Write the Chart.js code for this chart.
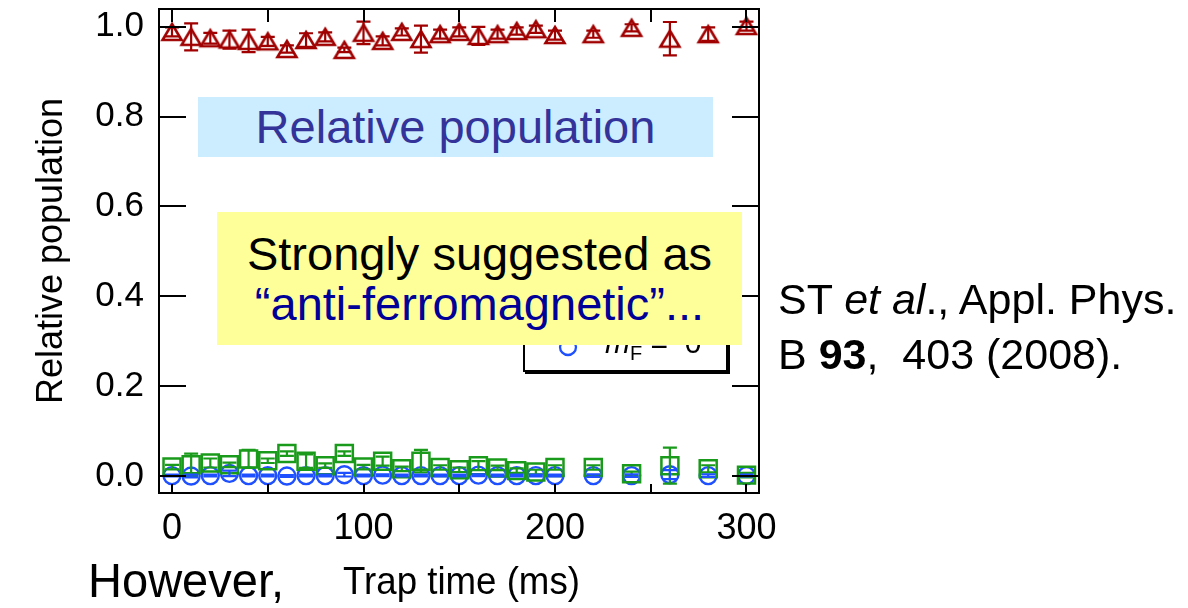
<!DOCTYPE html>
<html><head><meta charset="utf-8">
<script src="https://cdn.jsdelivr.net/npm/chart.js@4/dist/chart.umd.min.js"></script>
<style>
html,body{margin:0;padding:0;background:#fff;}
#wrap{position:relative;width:1188px;height:608px;overflow:hidden;font-family:"Liberation Sans",Arial,sans-serif;}
canvas{position:absolute;left:0;top:0;}
.ov{position:absolute;white-space:nowrap;}
</style></head><body>
<div id="wrap">
<canvas id="c" width="1188" height="608"></canvas>

<div class="ov" style="left:523px;top:236px;width:201px;height:132px;border:2px solid #000;background:#fff;box-shadow:2px 2px 0 #000;"></div>
<svg class="ov" style="left:558px;top:262px" width="20" height="20"><polygon points="10,2.5 18.5,17.5 1.5,17.5" fill="none" stroke="#A00000" stroke-width="2.2"/></svg>
<div class="ov" style="left:605px;top:256px;font-size:30px;line-height:30px;"><i>m</i><sub style="font-size:20px">F</sub> = +1</div>
<svg class="ov" style="left:558px;top:298px" width="20" height="20"><rect x="2.5" y="2.5" width="15" height="15" fill="none" stroke="#1A9A1A" stroke-width="2.2"/></svg>
<div class="ov" style="left:605px;top:292px;font-size:30px;line-height:30px;"><i>m</i><sub style="font-size:20px">F</sub> = −1</div>
<svg class="ov" style="left:558px;top:337px" width="20" height="20"><circle cx="10" cy="10" r="8" fill="none" stroke="#1E50FF" stroke-width="2.3"/></svg>
<div class="ov" style="left:605px;top:328px;font-size:30px;line-height:30px;"><i>m</i><sub style="font-size:20px">F</sub> = &nbsp;0</div>

<div class="ov" style="left:198px;top:97px;width:515px;height:60px;background:#CCECFF;color:#333399;font-size:47px;line-height:60px;text-align:center;">Relative population</div>
<div class="ov" style="left:217px;top:212px;width:525px;height:133px;background:#FFFF99;color:#000;font-size:47px;line-height:50px;text-align:center;padding-top:17px;box-sizing:border-box;">Strongly suggested as<br><span style="color:#000099">“anti-ferromagnetic”...</span></div>

<div class="ov" style="left:778px;top:272px;font-size:43px;line-height:55px;color:#000;">ST <i>et al</i>., Appl. Phys.<br>B <b>93</b>,&nbsp; 403 (2008).</div>

<div class="ov" style="left:343px;top:560px;font-size:39px;line-height:42px;transform:scaleX(0.94);transform-origin:0 0;">Trap time (ms)</div>
<div class="ov" style="left:88px;top:554px;font-size:49px;line-height:52px;transform:scaleX(0.96);transform-origin:0 0;">However,</div>
</div>
<script>
// ---- data ----
const trapTimes = [0,10,20,30,40,50,60,70,80,90,100,110,120,130,140,150,160,170,180,190,200,220,240,260,280,300];
const popPlus1  = [0.988,0.977,0.974,0.971,0.968,0.967,0.950,0.970,0.977,0.948,0.986,0.968,0.988,0.972,0.983,0.988,0.979,0.983,0.990,0.994,0.981,0.983,0.997,0.973,0.983,1.001];
const errPlus1  = [0.010,0.030,0.012,0.020,0.025,0.010,0.008,0.015,0.010,0.005,0.025,0.010,0.008,0.030,0.010,0.010,0.020,0.010,0.008,0.008,0.010,0.008,0.008,0.037,0.015,0.010];
const popMinus1 = [0.021,0.026,0.030,0.026,0.039,0.035,0.051,0.034,0.024,0.051,0.021,0.034,0.017,0.034,0.020,0.015,0.024,0.019,0.013,0.010,0.020,0.020,0.006,0.024,0.017,0.003];
const errMinus1 = [0.005,0.025,0.010,0.005,0.020,0.005,0.005,0.015,0.005,0.005,0.005,0.010,0.005,0.025,0.005,0.005,0.010,0.005,0.005,0.005,0.005,0.005,0.005,0.040,0.008,0.005];
const popZero   = [0.002,0.001,0.002,0.007,0.002,0.002,0.001,0.002,0.002,0.004,0.002,0.003,0.002,0.002,0.002,0.002,0.003,0.002,0.002,0.002,0.002,0.002,0.002,0.004,0.002,0.002];
const errZero   = [0.002,0.003,0.002,0.006,0.002,0.002,0.002,0.002,0.002,0.004,0.002,0.002,0.002,0.002,0.002,0.002,0.002,0.002,0.002,0.002,0.002,0.003,0.003,0.010,0.003,0.002];
const xTickValues = [0,50,100,150,200,250,300];
const xTickLabels = ['0','','100','','200','','300'];
const yTickValues = [0,0.2,0.4,0.6,0.8,1.0];
const yTickLabels = ['0.0','0.2','0.4','0.6','0.8','1.0'];

const RED='#A00000', GREEN='#1A9A1A', BLUE='#1E50FF';
Chart.defaults.font.family = '"Liberation Sans", Arial, sans-serif';

function makeTri(color){
  const c=document.createElement('canvas'); c.width=26; c.height=24;
  const g=c.getContext('2d'); g.strokeStyle=color; g.lineWidth=2.6;
  g.beginPath(); g.moveTo(13,4); g.lineTo(22.5,20); g.lineTo(3.5,20); g.closePath(); g.stroke();
  return c;
}
function noPad(s){ s.paddingTop=0; s.paddingBottom=0; s.paddingLeft=0; s.paddingRight=0; }

const errPlugin = {
  id:'errbars',
  afterDatasetsDraw(chart){
    const ctx=chart.ctx, xs=chart.scales.x, ys=chart.scales.y;
    chart.data.datasets.forEach(ds=>{
      const err=ds.errors; if(!err) return;
      ctx.save(); ctx.strokeStyle=ds.borderColor; ctx.lineWidth=2.2;
      ctx.beginPath();
      ds.data.forEach((p,j)=>{
        const e=err[j]; if(!e) return;
        const px=xs.getPixelForValue(p.x), y1=ys.getPixelForValue(p.y+e), y0=ys.getPixelForValue(p.y-e);
        ctx.moveTo(px,y0); ctx.lineTo(px,y1);
        ctx.moveTo(px-7,y0); ctx.lineTo(px+7,y0);
        ctx.moveTo(px-7,y1); ctx.lineTo(px+7,y1);
      });
      ctx.stroke(); ctx.restore();
    });
  }
};
const framePlugin = {
  id:'frame',
  afterDraw(chart){
    const {ctx, chartArea:a, scales:{x,y}} = chart;
    ctx.save(); ctx.strokeStyle='#000'; ctx.lineWidth=2;
    ctx.strokeRect(a.left,a.top,a.right-a.left,a.bottom-a.top);
    ctx.beginPath();
    xTickValues.forEach(v=>{const px=Math.round(x.getPixelForValue(v));
      ctx.moveTo(px,a.bottom); ctx.lineTo(px,a.bottom-9);
      ctx.moveTo(px,a.top); ctx.lineTo(px,a.top+13);});
    yTickValues.forEach(v=>{const py=Math.round(y.getPixelForValue(v));
      ctx.moveTo(a.left,py); ctx.lineTo(a.left+27,py);
      ctx.moveTo(a.right,py); ctx.lineTo(a.right-27,py);});
    ctx.stroke(); ctx.restore();
  }
};

const mk = arr => trapTimes.map((t,i)=>({x:t,y:arr[i]}));
new Chart(document.getElementById('c'), {
  type:'scatter',
  data:{datasets:[
    {label:'m_F = +1', data:mk(popPlus1), errors:errPlus1, pointStyle:makeTri(RED), pointRadius:11, borderColor:RED, backgroundColor:'rgba(0,0,0,0)', showLine:false},
    {label:'m_F = -1', data:mk(popMinus1), errors:errMinus1, pointStyle:'rect', pointRadius:12, borderWidth:2.5, borderColor:GREEN, backgroundColor:'rgba(0,0,0,0)', showLine:false},
    {label:'m_F = 0', data:mk(popZero), errors:errZero, pointStyle:'circle', pointRadius:8.5, borderWidth:2.4, borderColor:BLUE, backgroundColor:'rgba(0,0,0,0)', showLine:false}
  ]},
  options:{
    animation:false, responsive:false, devicePixelRatio:1,
    layout:{autoPadding:false, padding:{left:0,right:429,top:9,bottom:0}},
    plugins:{legend:{display:false}, tooltip:{enabled:false}},
    scales:{
      x:{type:'linear', min:-6.79, max:306.53,
        afterBuildTicks:s=>{s.ticks=xTickValues.map(v=>({value:v}));},
        afterFit:s=>{s.height=115; noPad(s);},
        grid:{display:false, drawTicks:false}, border:{display:false},
        ticks:{callback:(v,i)=>xTickLabels[i], font:{size:36}, color:'#000', padding:14, maxRotation:0, autoSkip:false}},
      y:{type:'linear', min:-0.0367, max:1.0389,
        afterBuildTicks:s=>{s.ticks=yTickValues.map(v=>({value:v}));},
        afterFit:s=>{s.width=159; noPad(s);},
        grid:{display:false, drawTicks:false}, border:{display:false},
        ticks:{callback:(v,i)=>yTickLabels[i], font:{size:35}, color:'#000', padding:15, autoSkip:false},
        title:{display:true, text:'Relative population', font:{size:36}, color:'#000', padding:{top:30,bottom:0}}}
    }
  },
  plugins:[errPlugin, framePlugin]
});
</script>
</body></html>
